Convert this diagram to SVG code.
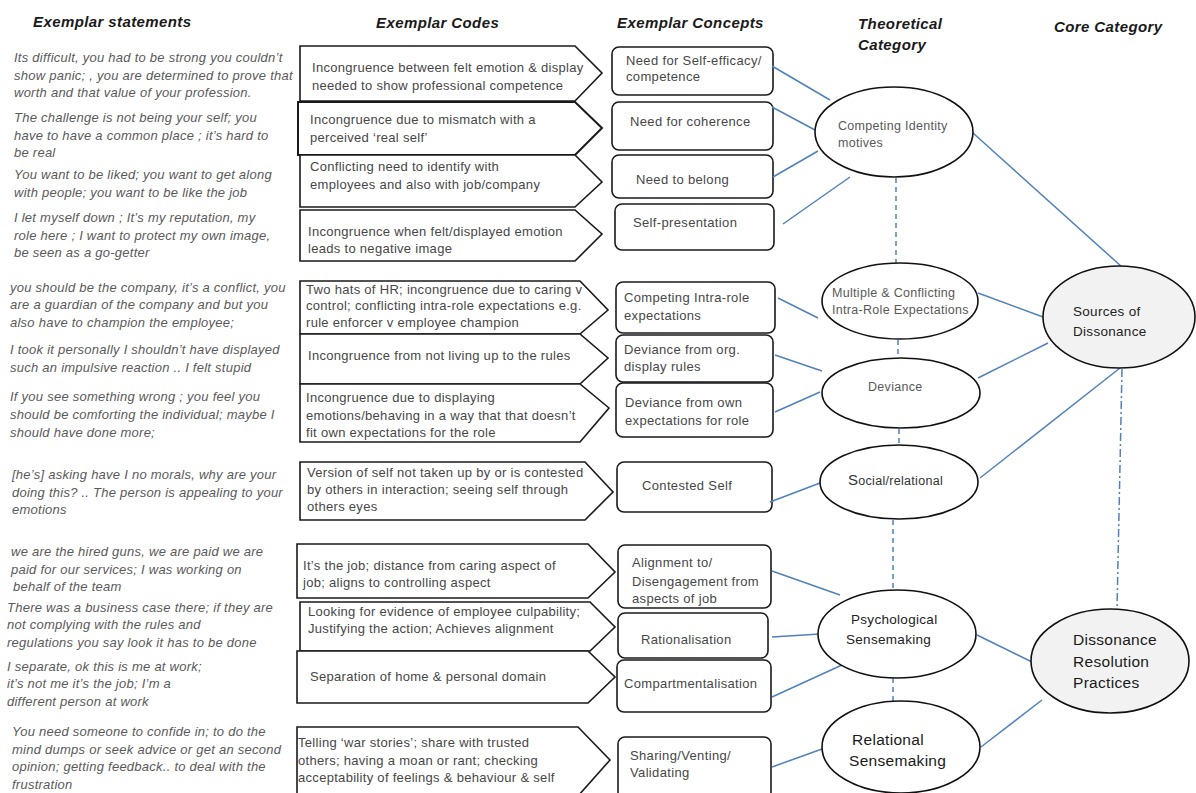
<svg xmlns="http://www.w3.org/2000/svg" width="1196" height="793" viewBox="0 0 1196 793">
<style>
text{font-family:"Liberation Sans",Arial,sans-serif}
.hd{font-weight:bold;font-style:italic;font-size:15px;fill:#1a1a1a;letter-spacing:0.4px}
.st{font-style:italic;font-size:13px;fill:#5a5a5a;letter-spacing:0.25px}
.cd{font-size:13px;fill:#474747;letter-spacing:0.3px}
.cp{font-size:13px;fill:#474747;letter-spacing:0.35px}
.et{font-size:12.5px;fill:#595959;letter-spacing:0.3px}
.ed{font-size:13.5px;fill:#222;letter-spacing:0.3px}
.eb{font-size:15.5px;fill:#1a1a1a;letter-spacing:0.3px}
.code{fill:#fff;stroke:#1a1a1a;stroke-width:1.6;stroke-linejoin:miter}
.con{fill:#fff;stroke:#1a1a1a;stroke-width:1.6}
.ell{fill:#fff;stroke:#111;stroke-width:1.6}
.core{fill:#f2f2f2;stroke:#111;stroke-width:1.6}
.ln{stroke:#4f81bd;stroke-width:1.5;fill:none}
.dash{stroke-dasharray:5 4}
.dd{stroke-dasharray:8 3 2 3}
</style>

<g id="headers">
<text class="hd" x="33" y="27">Exemplar statements</text>
<text class="hd" x="376" y="28">Exemplar Codes</text>
<text class="hd" x="617" y="28">Exemplar Concepts</text>
<text class="hd" x="858" y="29">Theoretical</text>
<text class="hd" x="858" y="50">Category</text>
<text class="hd" x="1054" y="32">Core Category</text>
</g>

<g id="statements">
<text class="st" x="14" y="62">Its difficult, you had to be strong you couldn’t</text>
<text class="st" x="14" y="80">show panic; , you are determined to prove that</text>
<text class="st" x="14" y="97">worth and that value of your profession.</text>
<text class="st" x="14" y="122">The challenge is not being your self; you</text>
<text class="st" x="14" y="140">have to have a common place ; it’s hard to</text>
<text class="st" x="14" y="157">be real</text>
<text class="st" x="14" y="179">You want to be liked; you want to get along</text>
<text class="st" x="14" y="197">with people; you want to be like the job</text>
<text class="st" x="14" y="222">I let myself down ; It’s my reputation, my</text>
<text class="st" x="14" y="240">role here ; I want to protect my own image,</text>
<text class="st" x="14" y="257">be seen as a go-getter</text>
<text class="st" x="10" y="292">you should be the company, it’s a conflict, you</text>
<text class="st" x="10" y="309">are a guardian of the company and but you</text>
<text class="st" x="10" y="327">also have to champion the employee;</text>
<text class="st" x="10" y="354">I took it personally I shouldn’t have displayed</text>
<text class="st" x="10" y="372">such an impulsive reaction .. I felt stupid</text>
<text class="st" x="10" y="401">If you see something wrong ; you feel you</text>
<text class="st" x="10" y="419">should be comforting the individual; maybe I</text>
<text class="st" x="10" y="437">should have done more;</text>
<text class="st" x="12" y="479">[he’s] asking have I no morals, why are your</text>
<text class="st" x="12" y="497">doing this? .. The person is appealing to your</text>
<text class="st" x="12" y="514">emotions</text>
<text class="st" x="11" y="556">we are the hired guns, we are paid we are</text>
<text class="st" x="11" y="574">paid for our services; I was working on</text>
<text class="st" x="13" y="591">behalf of the team</text>
<text class="st" x="7" y="612">There was a business case there; if they are</text>
<text class="st" x="7" y="629">not complying with the rules and</text>
<text class="st" x="7" y="647">regulations you say look it has to be done</text>
<text class="st" x="7" y="671">I separate, ok this is me at work;</text>
<text class="st" x="7" y="688">it’s not me it’s the job; I’m a</text>
<text class="st" x="7" y="706">different person at work</text>
<text class="st" x="12" y="736">You need someone to confide in; to do the</text>
<text class="st" x="12" y="754">mind dumps or seek advice or get an second</text>
<text class="st" x="12" y="771">opinion; getting feedback.. to deal with the</text>
<text class="st" x="12" y="789">frustration</text>
</g>

<g id="codes">
<g id="code1"><polygon class="code" points="300,46 575,46 602,73 575,101 300,101"/>
<text class="cd" x="312" y="72">Incongruence between felt emotion &amp; display</text>
<text class="cd" x="312" y="90">needed to show professional competence</text></g>
<g id="code2"><polygon class="code" points="298,102 575,102 602,128 575,155 298,155" style="stroke-width:2"/>
<text class="cd" x="310" y="124">Incongruence  due to mismatch with a</text>
<text class="cd" x="310" y="142">perceived ‘real self’</text></g>
<g id="code3"><polygon class="code" points="300,155 575,155 602,182 575,207 300,207"/>
<text class="cd" x="310" y="171">Conflicting need to identify with</text>
<text class="cd" x="310" y="189">employees and also  with job/company</text></g>
<g id="code4"><polygon class="code" points="300,210 575,210 602,234 575,261 300,261"/>
<text class="cd" x="308" y="236">Incongruence when felt/displayed  emotion</text>
<text class="cd" x="308" y="253">leads to negative image</text></g>
<g id="code5"><polygon class="code" points="300,281 580,281 608,310 580,334 300,334"/>
<text class="cd" x="306" y="294">Two hats of HR; incongruence due to caring v</text>
<text class="cd" x="306" y="310">control; conflicting intra-role expectations e.g.</text>
<text class="cd" x="306" y="327">rule enforcer v employee champion</text></g>
<g id="code6"><polygon class="code" points="300,334 580,334 608,358 580,384 300,384"/>
<text class="cd" x="308" y="360">Incongruence from  not living up to the rules</text></g>
<g id="code7"><polygon class="code" points="300,384 580,384 609,408 580,442 300,442"/>
<text class="cd" x="306" y="402">Incongruence due to displaying</text>
<text class="cd" x="306" y="420">emotions/behaving in a way that that doesn’t</text>
<text class="cd" x="306" y="437">fit own expectations for the role</text></g>
<g id="code8"><polygon class="code" points="300,462 585,462 613,492 585,520 300,520"/>
<text class="cd" x="307" y="477">Version of self not taken up by or is contested</text>
<text class="cd" x="307" y="494">by others in interaction; seeing self through</text>
<text class="cd" x="307" y="511">others eyes</text></g>
<g id="code9"><polygon class="code" points="297,544 588,544 615,572 588,598 297,598"/>
<text class="cd" x="303" y="570">It’s the job; distance from caring aspect of</text>
<text class="cd" x="303" y="587">job; aligns to controlling aspect</text></g>
<g id="code10"><polygon class="code" points="300,602 590,602 615,627 590,651 300,651"/>
<text class="cd" x="308" y="616">Looking  for evidence of employee culpability;</text>
<text class="cd" x="308" y="633">Justifying the action;  Achieves alignment</text></g>
<g id="code11"><polygon class="code" points="297,651 588,651 615,677 588,703 297,703"/>
<text class="cd" x="310" y="681">Separation of home &amp; personal domain</text></g>
<g id="code12"><polygon class="code" points="297,727 578,727 610,760 578,796 297,796"/>
<text class="cd" x="298" y="747">Telling ‘war stories’; share with    trusted</text>
<text class="cd" x="298" y="765">others; having a moan or rant; checking</text>
<text class="cd" x="298" y="782">acceptability of feelings &amp; behaviour  &amp; self</text></g>
</g>

<g id="concepts">
<g id="con1"><rect class="con" x="612" y="47" width="161" height="48" rx="7"/>
<text class="cp" x="626" y="65">Need for Self-efficacy/</text>
<text class="cp" x="626" y="81">competence</text></g>
<g id="con2"><rect class="con" x="612" y="102" width="161" height="48" rx="7"/>
<text class="cp" x="630" y="126">Need for coherence</text></g>
<g id="con3"><rect class="con" x="612" y="155" width="161" height="43" rx="7"/>
<text class="cp" x="636" y="184">Need to belong</text></g>
<g id="con4"><rect class="con" x="615" y="204" width="159" height="46" rx="7"/>
<text class="cp" x="633" y="227">Self-presentation</text></g>
<g id="con5"><rect class="con" x="616" y="282" width="159" height="51" rx="7"/>
<text class="cp" x="624" y="302">Competing Intra-role</text>
<text class="cp" x="624" y="320">expectations</text></g>
<g id="con6"><rect class="con" x="616" y="335" width="157" height="47" rx="7"/>
<text class="cp" x="624" y="354">Deviance from org.</text>
<text class="cp" x="624" y="371">display rules</text></g>
<g id="con7"><rect class="con" x="616" y="383" width="157" height="54" rx="7"/>
<text class="cp" x="625" y="407">Deviance from  own</text>
<text class="cp" x="625" y="425">expectations for role</text></g>
<g id="con8"><rect class="con" x="617" y="462" width="155" height="50" rx="7"/>
<text class="cp" x="642" y="490">Contested Self</text></g>
<g id="con9"><rect class="con" x="618" y="545" width="153" height="63" rx="7"/>
<text class="cp" x="632" y="567">Alignment to/</text>
<text class="cp" x="632" y="586">Disengagement from</text>
<text class="cp" x="632" y="603">aspects of job</text></g>
<g id="con10"><rect class="con" x="618" y="613" width="150" height="45" rx="7"/>
<text class="cp" x="641" y="644">Rationalisation</text></g>
<g id="con11"><rect class="con" x="617" y="660" width="154" height="52" rx="7"/>
<text class="cp" x="624" y="688">Compartmentalisation</text></g>
<g id="con12"><rect class="con" x="618" y="737" width="153" height="62" rx="7"/>
<text class="cp" x="630" y="760">Sharing/Venting/</text>
<text class="cp" x="630" y="777">Validating</text></g>
</g>

<g id="connectors">
<line class="ln" x1="772" y1="66" x2="830" y2="100"/>
<line class="ln" x1="772" y1="107" x2="815" y2="130"/>
<line class="ln" x1="773" y1="177" x2="818" y2="151"/>
<line class="ln" x1="783" y1="224" x2="850" y2="177"/>
<line class="ln" x1="778" y1="298" x2="818" y2="318"/>
<line class="ln" x1="775" y1="355" x2="822" y2="371"/>
<line class="ln" x1="775" y1="412" x2="820" y2="392"/>
<line class="ln" x1="770" y1="502" x2="820" y2="483"/>
<line class="ln" x1="772" y1="571" x2="840" y2="595"/>
<line class="ln" x1="772" y1="637" x2="820" y2="634"/>
<line class="ln" x1="772" y1="697" x2="842" y2="665"/>
<line class="ln" x1="772" y1="767" x2="822" y2="749"/>
<line class="ln" x1="973" y1="133" x2="1122" y2="267"/>
<line class="ln" x1="978" y1="293" x2="1043" y2="317"/>
<line class="ln" x1="978" y1="378" x2="1048" y2="343"/>
<line class="ln" x1="980" y1="478" x2="1120" y2="368"/>
<line class="ln" x1="977" y1="635" x2="1032" y2="662"/>
<line class="ln" x1="981" y1="747" x2="1042" y2="700"/>
<line class="ln dash" x1="896" y1="178" x2="896" y2="263"/>
<line class="ln dash" x1="898" y1="340" x2="898" y2="358"/>
<line class="ln dash" x1="899" y1="429" x2="899" y2="446"/>
<line class="ln dash" x1="893" y1="520" x2="893" y2="590"/>
<line class="ln dash" x1="893" y1="678" x2="893" y2="701"/>
<line class="ln dd" x1="1122" y1="369" x2="1117" y2="610"/>
</g>

<g id="theory">
<g id="t1"><ellipse class="ell" cx="894" cy="132" rx="79" ry="45"/>
<text class="et" x="838" y="130">Competing Identity</text>
<text class="et" x="838" y="147">motives</text></g>
<g id="t2"><ellipse class="ell" cx="900" cy="301" rx="78" ry="38"/>
<text class="et" x="832" y="297">Multiple &amp; Conflicting</text>
<text class="et" x="832" y="314">Intra-Role  Expectations</text></g>
<g id="t3"><ellipse class="ell" cx="901" cy="393" rx="79" ry="35"/>
<text class="et" x="868" y="391">Deviance</text></g>
<g id="t4"><ellipse class="ell" cx="899" cy="482" rx="79" ry="37"/>
<text class="et" x="848" y="485" style="fill:#333"><tspan style="font-size:15px">S</tspan>ocial/relational</text></g>
<g id="t5"><ellipse class="ell" cx="897" cy="634" rx="79" ry="44"/>
<text class="ed" x="851" y="624">Psychological</text>
<text class="ed" x="846" y="644">Sensemaking</text></g>
<g id="t6"><ellipse class="ell" cx="901" cy="747" rx="79" ry="46"/>
<text class="eb" x="852" y="745">Relational</text>
<text class="eb" x="849" y="766">Sensemaking</text></g>
</g>

<g id="core">
<g id="k1"><ellipse class="core" cx="1119" cy="317" rx="76" ry="51"/>
<text class="ed" x="1073" y="316">Sources of</text>
<text class="ed" x="1073" y="336">Dissonance</text></g>
<g id="k2"><ellipse class="core" cx="1110" cy="661" rx="79" ry="52"/>
<text class="eb" x="1073" y="645">Dissonance</text>
<text class="eb" x="1073" y="667">Resolution</text>
<text class="eb" x="1073" y="688">Practices</text></g>
</g>
</svg>
